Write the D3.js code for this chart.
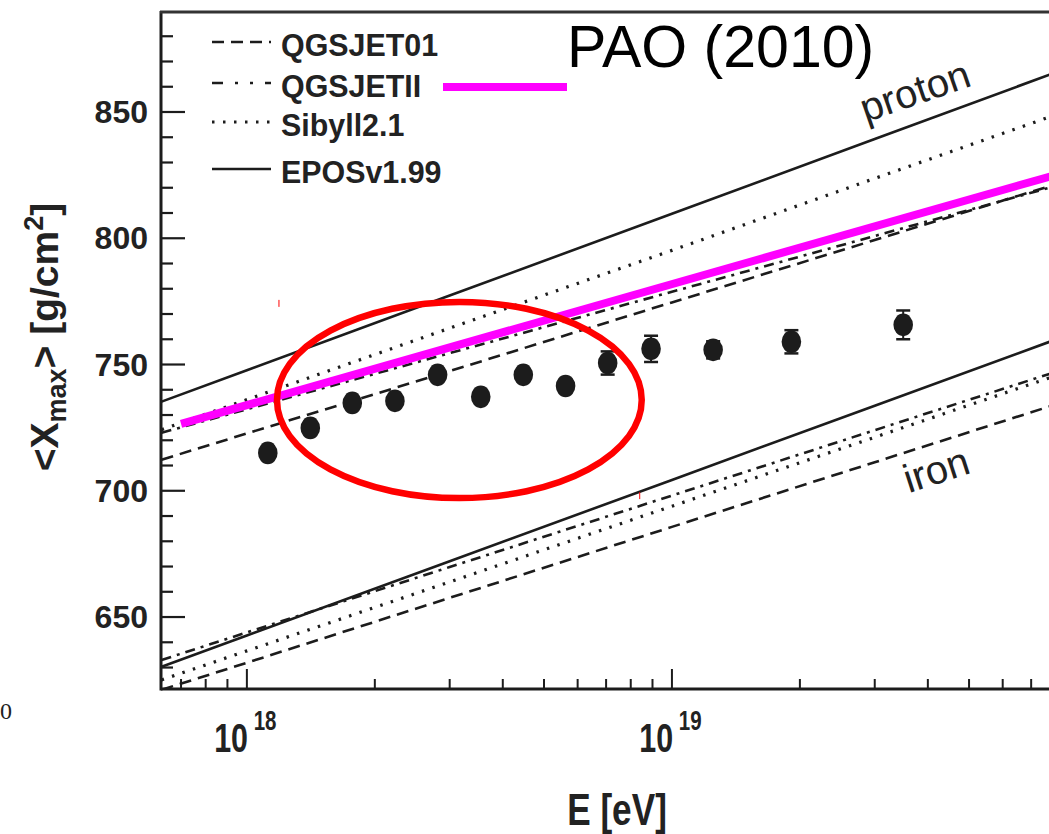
<!DOCTYPE html>
<html><head><meta charset="utf-8">
<script src="https://cdn.jsdelivr.net/npm/d3@7"></script>
<style>body{margin:0;background:#fff}svg{display:block}</style>
</head><body>
<svg id="c" width="1049" height="834"></svg>
<script>
// ---- data ----
const energies     = [6.3e17, 1e18, 3e18, 1e19, 3e19, 8e19];
// proton
const protonEPOS    = [735.3, 747.7, 777.3, 809.7, 839.3, 865.7];
const protonSibyll  = [724.2, 736.1, 764.4, 795.2, 823.7, 848.9];
const protonQGSJET01= [712.3, 722.7, 747.4, 774.6, 799.3, 821.4];
const protonQGSJETII= [723.0, 732.3, 754.5, 778.8, 800.9, 820.7];
// iron
const ironEPOS      = [630.3, 642.7, 672.1, 704.3, 733.7, 759.9];
const ironSibyll    = [625.1, 636.6, 663.9, 693.9, 721.2, 745.6];
const ironQGSJET01  = [621.2, 631.9, 657.6, 685.7, 711.3, 734.2];
const ironQGSJETII  = [633.0, 643.9, 669.8, 698.1, 724.0, 747.1];
// PAO data points
const dataE   = [1.12e18, 1.41e18, 1.77e18, 2.23e18, 2.81e18, 3.55e18, 4.47e18, 5.62e18, 7.06e18, 8.93e18, 1.25e19, 1.91e19, 3.50e19];
const dataX   = [715.0, 724.9, 734.8, 735.6, 745.9, 737.2, 745.9, 741.5, 750.6, 756.2, 755.8, 759.0, 765.7];
const dataErr = [1.5, 1.5, 1.5, 1.6, 2.0, 2.0, 2.2, 2.4, 4.6, 5.2, 3.4, 4.6, 5.7];
// PAO (2010) fit line
const paoE = [7e17, 8e19];
const paoX = [726.5, 825.1];
// highlight ellipse (energy and depth extents)
const ellipseE = [1.177e18, 8.49e18];
const ellipseX = [697.1, 774.8];
// label anchors
const protonLabel = {e: 3.82e19, v: 853.2, text: "proton"};
const ironLabel   = {e: 4.28e19, v: 703.1, text: "iron"};
// ticks
const yMajor = [650, 700, 750, 800, 850];
const yMinor = d3.range(630, 890, 10);
const xMajor = [1e18, 1e19];
const xMajorExp = ["18", "19"];
const xMinor = [7e17, 8e17, 9e17, 2e18, 3e18, 4e18, 5e18, 6e18, 7e18, 8e18, 9e18, 2e19, 3e19, 4e19, 5e19, 6e19, 7e19, 8e19, 9e19];
const models = ["QGSJET01", "QGSJETII", "Sibyll2.1", "EPOSv1.99"];
const dashes = {"QGSJET01":"12,7", "QGSJETII":"10,6,3,6", "Sibyll2.1":"2.5,8.5", "EPOSv1.99":null};

const svg = d3.select("#c");
const x = d3.scaleLog().domain([6.28e17, 1e20]).range([161, 1097]);
const y = d3.scaleLinear().domain([621.5, 889.6]).range([689, 12]);
const ink = "#1c1c1c";
const sans = "Liberation Sans, Arial, sans-serif";

svg.append("defs").append("clipPath").attr("id","plot")
  .append("rect").attr("x",161).attr("y",12).attr("width",936).attr("height",677);

const plot = svg.append("g").attr("clip-path","url(#plot)");
const line = d3.line().x(d=>x(d[0])).y(d=>y(d[1]));

const series = [
  ["EPOSv1.99", protonEPOS], ["Sibyll2.1", protonSibyll], ["QGSJET01", protonQGSJET01], ["QGSJETII", protonQGSJETII],
  ["EPOSv1.99", ironEPOS], ["Sibyll2.1", ironSibyll], ["QGSJET01", ironQGSJET01], ["QGSJETII", ironQGSJETII]
];
series.forEach(([m, vals]) => {
  plot.append("path").attr("d", line(energies.map((e,i)=>[e, vals[i]])))
    .attr("fill","none").attr("stroke", ink)
    .attr("stroke-width", m==="Sibyll2.1" ? 3.2 : 2.6)
    .attr("stroke-dasharray", dashes[m]);
});

// model labels
[[protonLabel,-19],[ironLabel,-18]].forEach(([L,a])=>{
  plot.append("text").attr("transform", `translate(${x(L.e)},${y(L.v)}) rotate(${a})`)
    .attr("text-anchor","middle").attr("font-family",sans)
    .attr("font-size",40).attr("fill","#222").text(L.text);
});

// data points with error bars
const pts = plot.append("g");
dataE.forEach((e,i)=>{
  const cx = x(e), y1 = y(dataX[i]+dataErr[i]), y2 = y(dataX[i]-dataErr[i]);
  pts.append("line").attr("x1",cx).attr("x2",cx).attr("y1",y1).attr("y2",y2).attr("stroke",ink).attr("stroke-width",2);
  [y1,y2].forEach(yy=>pts.append("line").attr("x1",cx-7).attr("x2",cx+7).attr("y1",yy).attr("y2",yy).attr("stroke",ink).attr("stroke-width",2.5));
  pts.append("ellipse").attr("cx",cx).attr("cy",y(dataX[i])).attr("rx",9.8).attr("ry",11.3).attr("fill",ink);
});

// PAO line
plot.append("path").attr("d", line(paoE.map((e,i)=>[e, paoX[i]])))
  .attr("stroke","#ff00ff").attr("stroke-width",8).attr("fill","none");

// red ellipse
const ex0 = x(ellipseE[0]), ex1 = x(ellipseE[1]), ey0 = y(ellipseX[1]), ey1 = y(ellipseX[0]);
svg.append("ellipse").attr("cx",(ex0+ex1)/2).attr("cy",(ey0+ey1)/2)
  .attr("rx",(ex1-ex0)/2).attr("ry",(ey1-ey0)/2)
  .attr("fill","none").attr("stroke","#ff0000").attr("stroke-width",6.5);
// small red marks
svg.append("line").attr("x1",ex0+2).attr("x2",ex0+2).attr("y1",ey0-2).attr("y2",ey0+5).attr("stroke","#ff0000").attr("stroke-width",1);
svg.append("line").attr("x1",ex1-2).attr("x2",ex1-2).attr("y1",ey1-6).attr("y2",ey1+1).attr("stroke","#ff0000").attr("stroke-width",1);

// axes frame
const axisG = svg.append("g");
axisG.append("line").attr("x1",161).attr("x2",1049).attr("y1",689).attr("y2",689).attr("stroke",ink).attr("stroke-width",3);
axisG.append("line").attr("x1",161).attr("x2",161).attr("y1",11).attr("y2",690.5).attr("stroke",ink).attr("stroke-width",3);
axisG.append("line").attr("x1",160).attr("x2",1049).attr("y1",12).attr("y2",12).attr("stroke","#333").attr("stroke-width",3);

// y ticks
yMinor.forEach(v=>{
  const len = yMajor.includes(v) ? 24 : 12;
  axisG.append("line").attr("x1",161).attr("x2",161+len).attr("y1",y(v)).attr("y2",y(v)).attr("stroke",ink).attr("stroke-width",2.2);
});
yMajor.forEach(v=>{
  svg.append("text").attr("x",148).attr("y",y(v)+11).attr("text-anchor","end")
    .attr("font-family",sans).attr("font-weight","bold")
    .attr("font-size",32).attr("fill","#222").text(v);
});
// x ticks
xMinor.forEach(v=>{
  axisG.append("line").attr("x1",x(v)).attr("x2",x(v)).attr("y1",689).attr("y2",679).attr("stroke",ink).attr("stroke-width",2);
});
xMajor.forEach((v,i)=>{
  axisG.append("line").attr("x1",x(v)).attr("x2",x(v)).attr("y1",689).attr("y2",669).attr("stroke",ink).attr("stroke-width",2);
  const g = svg.append("g").attr("transform",`translate(${x(v)},752) scale(0.76,1)`)
    .attr("font-family",sans).attr("font-weight","bold").attr("fill","#222");
  g.append("text").attr("x",1.5).attr("y",0).attr("text-anchor","end").attr("font-size",40).text("10");
  g.append("text").attr("x",9).attr("y",-22).attr("font-size",27).text(xMajorExp[i]);
});

// axis titles
svg.append("text").attr("transform","translate(617,825) scale(0.8,1)").attr("text-anchor","middle")
  .attr("font-family",sans).attr("font-weight","bold")
  .attr("font-size",44).attr("fill","#222").text("E [eV]");
const yt = svg.append("text").attr("transform","translate(58,337) rotate(-90)").attr("text-anchor","middle")
  .attr("font-family",sans).attr("font-weight","bold")
  .attr("font-size",39).attr("fill","#222");
yt.append("tspan").text("<X");
yt.append("tspan").attr("font-size",27).attr("dy",8).text("max");
yt.append("tspan").attr("dy",-8).text("> [g/cm");
yt.append("tspan").attr("font-size",27).attr("dy",-15).text("2");
yt.append("tspan").attr("dy",15).text("]");

// legend
const legBase = [56, 97, 136, 183];
models.forEach((m,i)=>{
  svg.append("line").attr("x1",212).attr("x2",271).attr("y1",legBase[i]-14).attr("y2",legBase[i]-14)
    .attr("stroke",ink).attr("stroke-width", m==="Sibyll2.1" ? 3.2 : 2.6)
    .attr("stroke-dasharray", m==="QGSJETII" ? "11,12,3,12,3,12" : dashes[m]);
  svg.append("text").attr("transform",`translate(281,${legBase[i]}) scale(0.95,1)`)
    .attr("font-family",sans).attr("font-weight","bold")
    .attr("font-size",32).attr("fill","#222").text(m);
});
svg.append("line").attr("x1",443).attr("x2",567).attr("y1",87).attr("y2",87).attr("stroke","#ff00ff").attr("stroke-width",8);
svg.append("text").attr("x",567).attr("y",67).attr("font-family",sans)
  .attr("font-size",59).attr("fill","#000").text("PAO (2010)");

// stray glyph at the left edge
svg.append("text").attr("x",0).attr("y",719).attr("font-family","Liberation Serif, serif")
  .attr("font-size",24).attr("fill","#222").text("0");
</script>
</body></html>
